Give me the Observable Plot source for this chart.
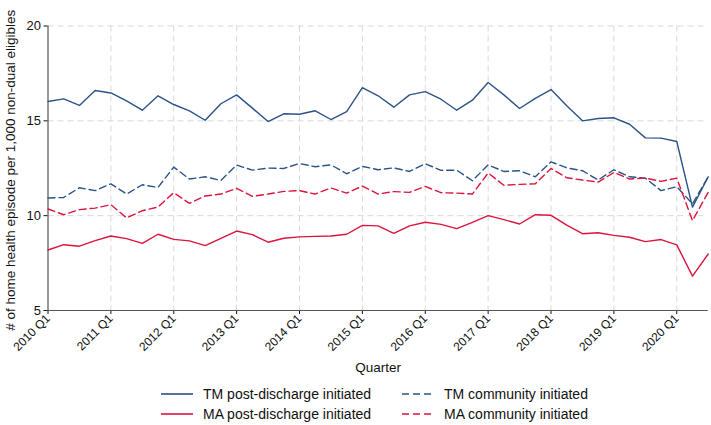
<!DOCTYPE html>
<html>
<head>
<meta charset="utf-8">
<script src="https://cdn.jsdelivr.net/npm/d3@7"></script>
<script src="https://cdn.jsdelivr.net/npm/@observablehq/plot@0.6"></script>
<style>
  body { margin: 0; background: #fff; font-family: "Liberation Sans", Arial, sans-serif; }
  #chart svg { display: block; }
  .legend { display: grid; grid-template-columns: 241px 280px; margin-left: 161px; margin-top: 7px; row-gap: 2px; font-size: 14px; color: #111; }
  .legend .item { display: flex; align-items: center; height: 18px; }
  .legend svg { margin-right: 10px; }
</style>
</head>
<body>
<div id="chart"></div>
<div class="legend" id="legend"></div>
<script>
const quarters = [
  "2010 Q1","2010 Q2","2010 Q3","2010 Q4","2011 Q1","2011 Q2","2011 Q3","2011 Q4",
  "2012 Q1","2012 Q2","2012 Q3","2012 Q4","2013 Q1","2013 Q2","2013 Q3","2013 Q4",
  "2014 Q1","2014 Q2","2014 Q3","2014 Q4","2015 Q1","2015 Q2","2015 Q3","2015 Q4",
  "2016 Q1","2016 Q2","2016 Q3","2016 Q4","2017 Q1","2017 Q2","2017 Q3","2017 Q4",
  "2018 Q1","2018 Q2","2018 Q3","2018 Q4","2019 Q1","2019 Q2","2019 Q3","2019 Q4",
  "2020 Q1","2020 Q2","2020 Q3"
];
const xTicks = quarters.filter(q => q.endsWith("Q1"));
const yTicks = [5, 10, 15, 20];

const tmPost = [16.02,16.16,15.81,16.6,16.47,16.05,15.56,16.32,15.86,15.53,15.03,15.9,
  16.37,15.67,14.96,15.37,15.35,15.53,15.07,15.49,16.75,16.32,15.72,16.37,16.54,16.14,
  15.56,16.09,17.02,16.37,15.65,16.18,16.65,15.8,15.0,15.12,15.16,14.82,14.1,14.09,13.91,10.45,12.05];
const tmComm = [10.93,10.96,11.47,11.32,11.68,11.14,11.63,11.49,12.56,11.93,12.05,11.86,
  12.67,12.4,12.51,12.49,12.75,12.58,12.68,12.21,12.6,12.42,12.52,12.33,12.74,12.39,
  12.4,11.84,12.68,12.33,12.37,12.05,12.84,12.52,12.37,11.88,12.42,12.05,11.98,11.32,11.53,10.62,12.05];
const maPost = [8.19,8.47,8.39,8.68,8.93,8.79,8.54,9.02,8.75,8.67,8.42,8.8,
  9.19,9.0,8.6,8.81,8.88,8.91,8.93,9.02,9.49,9.46,9.07,9.46,9.65,9.54,
  9.32,9.65,10.0,9.79,9.56,10.05,10.02,9.5,9.05,9.1,8.96,8.86,8.63,8.74,8.46,6.81,7.98];
const maComm = [10.35,10.05,10.32,10.4,10.58,9.88,10.26,10.46,11.21,10.65,11.04,11.14,
  11.44,11.02,11.14,11.28,11.32,11.14,11.46,11.19,11.56,11.14,11.27,11.23,11.54,11.21,
  11.19,11.14,12.25,11.6,11.65,11.68,12.49,12.0,11.88,11.77,12.28,11.93,11.98,11.81,11.98,9.74,11.23];

const seriesNames = ["TM post-discharge initiated","TM community initiated","MA post-discharge initiated","MA community initiated"];
const seriesValues = [tmPost, tmComm, maPost, maComm];
const seriesColors = ["#2b5388", "#2b5388", "#dc143c", "#dc143c"];
const seriesDash = [null, "7,4", null, "7,4"];

const yLabel = "# of home health episode per 1,000 non-dual eligibles";
const xLabel = "Quarter";

const W = 711, H = 378;
const marks = [
  Plot.gridY(yTicks.filter(d => d > 5), {stroke: "#d9d9d9", strokeOpacity: 1, strokeDasharray: "6,4"}),
  Plot.gridX(xTicks.slice(1), {stroke: "#d9d9d9", strokeOpacity: 1, strokeDasharray: "6,4"}),
  Plot.axisY(yTicks, {anchor: "left", tickSize: 4, tickPadding: 3, fontSize: 13, label: null}),
  Plot.axisX(xTicks, {anchor: "bottom", tickSize: 4, tickRotate: -45, tickPadding: 2, fontSize: 12, label: null}),
  Plot.text([yLabel], {frameAnchor: "left", rotate: -90, dx: -37.5, dy: 2, fontSize: 13.5, textAnchor: "middle", lineAnchor: "middle", fill: "#111"}),
  Plot.text([xLabel], {frameAnchor: "bottom", dy: 57, fontSize: 13.5, textAnchor: "middle", lineAnchor: "middle", fill: "#111"}),
  Plot.ruleY([5], {stroke: "#555", strokeWidth: 1.2}),
  Plot.ruleX([quarters[0]], {y1: 5, y2: 20, stroke: "#333", strokeWidth: 1})
];
seriesValues.forEach((vals, k) => {
  const data = vals.map((v, i) => ({q: quarters[i], v}));
  marks.push(Plot.line(data, {x: "q", y: "v", stroke: seriesColors[k], strokeWidth: 1.4,
    strokeDasharray: seriesDash[k], curve: "linear"}));
});

const chart = Plot.plot({
  width: W, height: H,
  marginLeft: 47.5, marginRight: 3.3, marginTop: 25.5, marginBottom: H - 310,
  style: {fontFamily: "'Liberation Sans', Arial, sans-serif", fontSize: "12px", color: "#111", background: "#fff"},
  x: {type: "point", domain: quarters, padding: 0},
  y: {domain: [5, 20]},
  marks
});
document.getElementById("chart").appendChild(chart);

const leg = document.getElementById("legend");
[0, 1, 2, 3].forEach(k => {
  const div = document.createElement("div");
  div.className = "item";
  const dash = seriesDash[k] ? `stroke-dasharray="7,4"` : "";
  div.innerHTML = `<svg width="32" height="10"><line x1="0" x2="32" y1="5" y2="5" stroke="${seriesColors[k]}" stroke-width="1.6" ${dash}/></svg><span>${seriesNames[k]}</span>`;
  leg.appendChild(div);
});
</script>
</body>
</html>
